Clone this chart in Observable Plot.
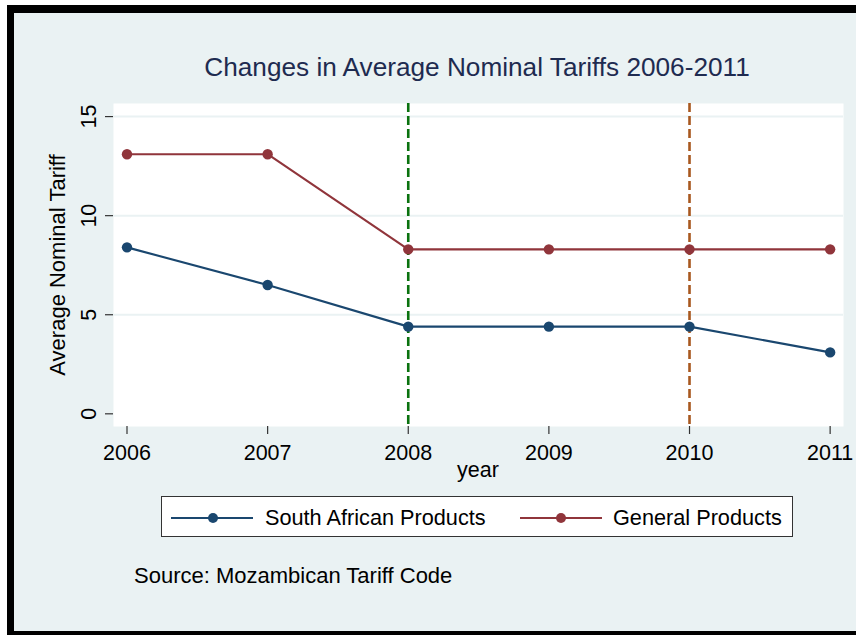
<!DOCTYPE html>
<html>
<head>
<meta charset="utf-8">
<script src="https://cdn.jsdelivr.net/npm/d3@7"></script>
<script src="https://cdn.jsdelivr.net/npm/@observablehq/plot@0.6"></script>
<style>
  html, body { margin: 0; padding: 0; background: #ffffff; }
  #wrap { position: relative; width: 856px; height: 635px; background: #eaf2f3; overflow: hidden;
          font-family: "Liberation Sans", Arial, sans-serif; }
  .blk { position: absolute; background: #000; }
  .txt { position: absolute; white-space: nowrap; line-height: 1; color: #000; }
  #chart { position: absolute; left: 0; top: 0; }
  #legend { position: absolute; left: 161px; top: 496px; width: 632px; height: 41px;
            background: #fff; border: 1px solid #333; box-sizing: border-box; }
  .sw { position: absolute; height: 2px; }
  .dot { position: absolute; width: 10px; height: 10px; border-radius: 50%; }
</style>
</head>
<body>
<div id="wrap">
  <div class="blk" style="left:0;top:0;width:856px;height:5px;background:#fff"></div>
  <div class="blk" style="left:0;top:0;width:7px;height:635px;background:#fff"></div>
  <div class="blk" style="left:7px;top:5px;width:849px;height:8px"></div>
  <div class="blk" style="left:7px;top:5px;width:7px;height:630px"></div>
  <div class="blk" style="left:7px;top:631px;width:849px;height:4px"></div>
  <div id="chart"></div>
  <div class="txt" id="title" style="font-size:26.2px;color:#1e2b50;top:53.8px;left:477px;transform:translateX(-50%)"></div>
  <div class="txt" id="ytitle" style="font-size:22px;left:57.5px;top:264.5px;transform:translate(-50%,-50%) rotate(-90deg)"></div>
  <div class="txt" id="xtitle" style="font-size:21.5px;top:460px;left:478px;transform:translateX(-50%)"></div>
  <div id="legend"></div>
  <div class="txt" id="caption" style="font-size:22px;top:564.5px;left:134px"></div>
</div>
<script>
const years = [2006, 2007, 2008, 2009, 2010, 2011];
const southAfrican = [8.4, 6.5, 4.4, 4.4, 4.4, 3.1];
const general = [13.1, 13.1, 8.3, 8.3, 8.3, 8.3];
const seriesNames = ["South African Products", "General Products"];
const seriesColors = ["#1a476f", "#90353b"];
const yTicks = [0, 5, 10, 15];
const gridTicks = [5, 10, 15];
const policyYears = [2008, 2010];
const policyColors = ["#0a720f", "#a8581f"];
const titleText = "Changes in Average Nominal Tariffs 2006-2011";
const xLabel = "year";
const yLabel = "Average Nominal Tariff";
const captionText = "Source: Mozambican Tariff Code";

const rows = [];
years.forEach((yr, i) => {
  rows.push({year: yr, value: southAfrican[i], series: seriesNames[0]});
  rows.push({year: yr, value: general[i], series: seriesNames[1]});
});
const policy = policyYears.map((yr, i) => ({year: yr, color: policyColors[i]}));

const plot = Plot.plot({
  width: 856,
  height: 635,
  marginLeft: 113,
  marginRight: 13,
  marginTop: 103,
  marginBottom: 209,
  style: {background: "transparent", fontFamily: "'Liberation Sans', Arial, sans-serif", fontSize: "21.5px", color: "#000", overflow: "visible"},
  x: {domain: [2005.904, 2011.095]},
  y: {domain: [-0.64, 15.66]},
  color: {domain: seriesNames, range: seriesColors},
  marks: [
    Plot.frame({fill: "white", stroke: null}),
    Plot.gridY(gridTicks, {stroke: "#eaf2f3", strokeOpacity: 1, strokeWidth: 2}),
    Plot.ruleX(policy, {x: "year", stroke: d => d.color, strokeWidth: 2.6, strokeDasharray: "9,4"}),
    Plot.line(rows, {x: "year", y: "value", z: "series", stroke: "series", strokeWidth: 2.1}),
    Plot.dot(rows, {x: "year", y: "value", fill: "series", r: 5.2, stroke: null}),
    Plot.axisX({ticks: years, tickFormat: d => String(d), tickSize: 8, tickPadding: 10, label: null, line: true, stroke: "#333", strokeWidth: 1.2}),
    Plot.axisY({ticks: yTicks, tickFormat: d => String(d), tickSize: 8, tickPadding: 10, tickRotate: -90, label: null, line: true, stroke: "#333", strokeWidth: 1.2})
  ]
});
document.getElementById("chart").appendChild(plot);

document.getElementById("title").textContent = titleText;
document.getElementById("ytitle").textContent = yLabel;
document.getElementById("xtitle").textContent = xLabel;
document.getElementById("caption").textContent = captionText;

// legend
const legend = document.getElementById("legend");
const legendPos = [{line: 9, dot: 51, text: 103}, {line: 358, dot: 399, text: 451}];
seriesNames.forEach((name, i) => {
  const p = legendPos[i];
  const sw = document.createElement("div");
  sw.className = "sw";
  sw.style.cssText = `left:${p.line}px;top:19.7px;width:82px;background:${seriesColors[i]}`;
  legend.appendChild(sw);
  const dt = document.createElement("div");
  dt.className = "dot";
  dt.style.cssText = `left:${p.dot - 5}px;top:${20.7 - 5}px;background:${seriesColors[i]}`;
  legend.appendChild(dt);
  const t = document.createElement("div");
  t.className = "txt";
  t.style.cssText = `font-size:21.7px;left:${p.text}px;top:${29 - 18.4 - 1}px`;
  t.textContent = name;
  legend.appendChild(t);
});
</script>
</body>
</html>
